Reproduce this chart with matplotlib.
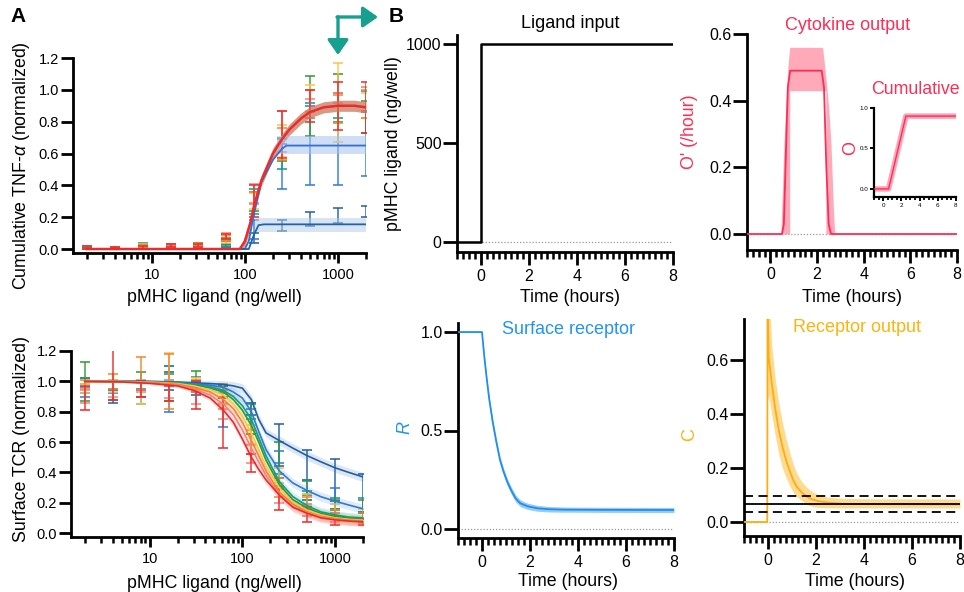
import numpy as np
import matplotlib
matplotlib.use('Agg')
import matplotlib.pyplot as plt
from matplotlib.ticker import FixedLocator, MultipleLocator, NullFormatter, FixedFormatter, FormatStrFormatter
from matplotlib.patches import FancyArrowPatch

plt.rcParams['font.family'] = ['Liberation Sans', 'DejaVu Sans']
plt.rcParams['mathtext.fontset'] = 'custom'
plt.rcParams['mathtext.rm'] = 'Liberation Sans'
plt.rcParams['mathtext.it'] = 'Liberation Sans:italic'

# ---------------- DATA ----------------
conc = [2, 4, 8, 16, 31.25, 62.5, 125, 250, 500, 1000, 2000]
series_names = ['dark blue', 'blue', 'teal', 'green', 'yellow', 'orange', 'salmon', 'red']
series_colors = ['#1f5fa6', '#2f78dc', '#139c8c', '#2f9a35', '#f8c64a', '#f5842a', '#f58080', '#ec2a2a']

# Cumulative TNF-alpha (normalized), mean and error per series
tnf_mean = [
    [0.005, 0.005, 0.01, 0.01, 0.02, 0.02, 0.07, 0.15, 0.19, 0.21, 0.235],
    [0.01, 0.005, 0.02, 0.02, 0.02, 0.03, 0.12, 0.52, 0.65, 0.65, 0.66],
    [0.01, 0.005, 0.025, 0.01, 0.025, 0.04, 0.30, 0.60, 0.87, 0.90, 0.93],
    [0.005, 0.005, 0.02, 0.02, 0.03, 0.05, 0.30, 0.62, 0.90, 0.95, 0.83],
    [0.01, 0.01, 0.02, 0.02, 0.02, 0.06, 0.30, 0.68, 0.95, 0.92, 0.90],
    [0.01, 0.005, 0.015, 0.02, 0.03, 0.07, 0.32, 0.66, 0.93, 0.88, 0.92],
    [0.01, 0.01, 0.01, 0.015, 0.02, 0.08, 0.35, 0.74, 0.88, 0.95, 0.93],
    [0.01, 0.005, 0.01, 0.02, 0.02, 0.08, 0.30, 0.72, 0.90, 0.90, 0.89],
]
tnf_err = [
    [0.005, 0.005, 0.01, 0.01, 0.01, 0.01, 0.03, 0.035, 0.045, 0.045, 0.035],
    [0.01, 0.005, 0.01, 0.01, 0.01, 0.02, 0.06, 0.14, 0.25, 0.25, 0.20],
    [0.01, 0.005, 0.015, 0.01, 0.01, 0.02, 0.08, 0.10, 0.05, 0.08, 0.06],
    [0.005, 0.005, 0.01, 0.01, 0.01, 0.02, 0.06, 0.07, 0.19, 0.15, 0.10],
    [0.01, 0.005, 0.01, 0.01, 0.01, 0.02, 0.05, 0.10, 0.08, 0.25, 0.08],
    [0.01, 0.005, 0.01, 0.01, 0.01, 0.02, 0.04, 0.10, 0.07, 0.09, 0.10],
    [0.01, 0.005, 0.01, 0.01, 0.01, 0.02, 0.06, 0.13, 0.06, 0.03, 0.07],
    [0.01, 0.005, 0.01, 0.01, 0.01, 0.015, 0.10, 0.15, 0.10, 0.15, 0.16],
]

# model fits for TNF
fit_red_x = [2, 88, 100, 115, 125, 150, 200, 250, 300, 400, 500, 700, 1000, 1500, 2000]
fit_red_y = [0, 0, 0.05, 0.17, 0.27, 0.43, 0.60, 0.69, 0.75, 0.82, 0.86, 0.89, 0.90, 0.90, 0.89]
fit_red_hw = [0.0, 0.0, 0.035, 0.035, 0.035, 0.035, 0.035, 0.035, 0.035, 0.035, 0.035, 0.035, 0.035, 0.035, 0.035]
fit_mid_x = [2, 100, 110, 125, 150, 200, 250, 280, 500, 1000, 2000]
fit_mid_y = [0, 0, 0.05, 0.22, 0.42, 0.56, 0.63, 0.65, 0.65, 0.65, 0.65]
band_mid_x = [220, 2000]
band_mid_lo = [0.595, 0.595]
band_mid_hi = [0.71, 0.71]
fit_low_x = [2, 110, 125, 140, 160, 2000]
fit_low_y = [0, 0, 0.09, 0.15, 0.155, 0.155]
band_low_x = [128, 2000]
band_low_lo = [0.11, 0.11]
band_low_hi = [0.195, 0.195]

# Surface TCR (normalized)
tcr_mean = [
    [0.97, 0.90, 0.95, 1.00, 0.95, 0.93, 0.82, 0.58, 0.45, 0.35, 0.26],
    [0.93, 0.96, 0.90, 0.95, 0.98, 0.84, 0.84, 0.50, 0.28, 0.23, 0.18],
    [1.00, 0.98, 0.97, 1.05, 1.00, 0.95, 0.70, 0.35, 0.25, 0.19, 0.12],
    [1.00, 0.94, 1.00, 0.96, 1.00, 0.93, 0.75, 0.48, 0.30, 0.19, 0.18],
    [0.95, 0.97, 0.92, 1.10, 0.98, 0.92, 0.65, 0.38, 0.22, 0.16, 0.13],
    [0.98, 1.00, 1.05, 1.00, 0.97, 0.88, 0.60, 0.30, 0.20, 0.12, 0.10],
    [0.90, 0.95, 0.97, 0.95, 0.90, 0.80, 0.52, 0.25, 0.15, 0.10, 0.08],
    [0.89, 1.05, 0.95, 0.92, 0.91, 0.73, 0.46, 0.22, 0.12, 0.08, 0.07],
]
tcr_err = [
    [0.05, 0.04, 0.05, 0.06, 0.04, 0.04, 0.04, 0.14, 0.10, 0.14, 0.13],
    [0.03, 0.04, 0.05, 0.15, 0.02, 0.14, 0.02, 0.04, 0.06, 0.07, 0.05],
    [0.02, 0.03, 0.03, 0.05, 0.03, 0.03, 0.05, 0.04, 0.03, 0.03, 0.02],
    [0.13, 0.06, 0.06, 0.09, 0.07, 0.04, 0.10, 0.12, 0.05, 0.04, 0.04],
    [0.03, 0.04, 0.07, 0.09, 0.04, 0.06, 0.06, 0.05, 0.04, 0.03, 0.03],
    [0.03, 0.05, 0.11, 0.18, 0.04, 0.06, 0.08, 0.06, 0.04, 0.03, 0.03],
    [0.04, 0.05, 0.04, 0.06, 0.05, 0.05, 0.06, 0.05, 0.04, 0.03, 0.02],
    [0.08, 0.17, 0.05, 0.05, 0.09, 0.17, 0.06, 0.07, 0.05, 0.03, 0.02],
]
tcr_fit_x = [2, 5, 10, 20, 30, 45, 62.5, 80, 100, 125, 150, 180, 250, 350, 500, 700, 1000, 1400, 2000]
tcr_fit_y = [
    [1.0, 1.0, 1.0, 0.995, 0.99, 0.985, 0.98, 0.97, 0.955, 0.88, 0.75, 0.66, 0.61, 0.56, 0.51, 0.47, 0.43, 0.40, 0.37],
    [1.0, 1.0, 0.998, 0.993, 0.985, 0.975, 0.96, 0.93, 0.89, 0.80, 0.67, 0.55, 0.41, 0.33, 0.28, 0.24, 0.21, 0.185, 0.16],
    [1.0, 1.0, 0.997, 0.99, 0.98, 0.965, 0.94, 0.90, 0.84, 0.75, 0.63, 0.51, 0.34, 0.24, 0.18, 0.14, 0.12, 0.105, 0.10],
    [1.0, 1.0, 0.996, 0.988, 0.975, 0.955, 0.93, 0.88, 0.81, 0.71, 0.60, 0.48, 0.32, 0.22, 0.165, 0.13, 0.11, 0.10, 0.09],
    [1.0, 0.999, 0.995, 0.985, 0.97, 0.945, 0.91, 0.85, 0.77, 0.66, 0.55, 0.44, 0.30, 0.20, 0.15, 0.12, 0.10, 0.09, 0.085],
    [1.0, 0.998, 0.993, 0.98, 0.96, 0.93, 0.88, 0.82, 0.73, 0.61, 0.51, 0.41, 0.27, 0.19, 0.14, 0.11, 0.095, 0.085, 0.08],
    [1.0, 0.997, 0.99, 0.975, 0.95, 0.91, 0.85, 0.78, 0.68, 0.56, 0.47, 0.38, 0.25, 0.175, 0.135, 0.105, 0.09, 0.082, 0.077],
    [1.0, 0.996, 0.987, 0.97, 0.94, 0.89, 0.81, 0.73, 0.62, 0.50, 0.42, 0.35, 0.25, 0.17, 0.13, 0.10, 0.087, 0.079, 0.074],
]
tcr_fit_hw = [0.0, 0.005, 0.008, 0.012, 0.015, 0.02, 0.025, 0.028, 0.03, 0.03, 0.03, 0.03, 0.03, 0.03, 0.03, 0.03, 0.03, 0.03, 0.03]

# Panel B: time courses
lig_t = [-1, 0, 0, 8]
lig_v = [0, 0, 1000, 1000]

cyt_t = [-1, 0.5, 0.58, 0.65, 0.75, 0.85, 2.2, 2.3, 2.4, 2.5, 2.6, 8]
cyt_v = [0, 0, 0.03, 0.2, 0.44, 0.49, 0.49, 0.44, 0.2, 0.03, 0, 0]
cyt_band_t = [-1, 0.45, 0.6, 0.75, 0.83, 0.831, 2.24, 2.38, 2.381, 2.5, 2.6, 2.7, 2.76, 8]
cyt_band_hi = [0, 0, 0.3, 0.5, 0.56, 0.56, 0.56, 0.47, 0.47, 0.38, 0.27, 0.08, 0, 0]
cyt_band_lo = [0, 0, 0, 0, 0, 0.43, 0.43, 0.43, 0, 0, 0, 0, 0, 0]

cum_t = [-1, 0.6, 2.5, 8]
cum_v = [0, 0, 0.9, 0.9]

r_t = [-1, 0, 0.1, 0.2, 0.3, 0.45, 0.6, 0.75, 0.9, 1.05, 1.2, 1.4, 1.6, 1.9, 2.3, 2.8, 3.5, 5, 8]
r_v = [1, 1, 0.87, 0.76, 0.66, 0.54, 0.44, 0.35, 0.29, 0.24, 0.2, 0.155, 0.13, 0.115, 0.105, 0.1, 0.098, 0.097, 0.096]
r_hw = [0, 0, 0.01, 0.012, 0.014, 0.015, 0.016, 0.017, 0.018, 0.018, 0.018, 0.018, 0.017, 0.016, 0.015, 0.014, 0.013, 0.013, 0.013]

c_t = [-1, -0.03, -0.02, 0.03, 0.15, 0.3, 0.45, 0.6, 0.75, 0.9, 1.05, 1.2, 1.4, 1.6, 1.8, 2.1, 2.5, 3.0, 4, 8]
c_v = [0, 0, 0.8, 0.61, 0.52, 0.42, 0.34, 0.28, 0.23, 0.19, 0.155, 0.13, 0.11, 0.095, 0.085, 0.077, 0.072, 0.068, 0.066, 0.065]
c_band_t = [-0.02, 0.03, 0.15, 0.3, 0.45, 0.6, 0.75, 0.9, 1.05, 1.2, 1.4, 1.6, 1.8, 2.1, 2.5, 3.0, 4, 8]
c_band_hi = [0.95, 0.9, 0.66, 0.53, 0.44, 0.37, 0.31, 0.26, 0.215, 0.18, 0.15, 0.13, 0.115, 0.1, 0.092, 0.088, 0.086, 0.085]
c_band_lo = [0.45, 0.47, 0.40, 0.32, 0.25, 0.2, 0.165, 0.135, 0.11, 0.095, 0.08, 0.065, 0.058, 0.054, 0.053, 0.052, 0.052, 0.052]
c_exp_mean = 0.067
c_exp_bounds = [0.037, 0.098]

# ---------------- FIGURE ----------------
W, H = 964, 592
fig = plt.figure(figsize=(W / 100, H / 100), dpi=100)


def px_ax(l, t, r, b):
    return fig.add_axes([l / W, 1 - b / H, (r - l) / W, (b - t) / H])


def ftext(x, y, s, **kw):
    ha = kw.pop('ha', 'center')
    va = kw.pop('va', 'center')
    fig.text(x / W, 1 - y / H, s, ha=ha, va=va, **kw)


def base_style(ax, ylen, xlen, xmin, lw=2.0, lsize=10.5, ypad=1.5):
    for s in ['top', 'right']:
        ax.spines[s].set_visible(False)
    for s in ['left', 'bottom']:
        ax.spines[s].set_linewidth(lw)
    ax.tick_params(axis='y', which='major', length=ylen, width=lw, labelsize=lsize, pad=ypad)
    ax.tick_params(axis='x', which='major', length=xlen, width=lw, labelsize=lsize)
    ax.tick_params(axis='x', which='minor', length=xmin, width=lw * 0.9)
    ax.tick_params(axis='y', which='minor', left=False)


def log_axis(ax):
    ax.set_xscale('log')
    ax.set_xlim(1.42, 2000)
    ax.xaxis.set_major_locator(FixedLocator([10, 100, 1000]))
    ax.xaxis.set_major_formatter(FixedFormatter(['10', '100', '1000']))
    minors = [m * d for d in (1, 10, 100) for m in range(2, 10)] + [2000]
    ax.xaxis.set_minor_locator(FixedLocator(minors))
    ax.xaxis.set_minor_formatter(NullFormatter())
    ax.set_yticks([0, 0.2, 0.4, 0.6, 0.8, 1.0, 1.2])
    ax.yaxis.set_major_formatter(FormatStrFormatter('%.1f'))


# ---- Panel A top: TNF ----
axA1 = px_ax(73, 58, 366, 253)
base_style(axA1, 8.5, 7, 4.5)
log_axis(axA1)
axA1.set_ylim(-0.025, 1.2)
for m, e, c in zip(tnf_mean, tnf_err, series_colors):
    axA1.errorbar(conc, m, yerr=e, fmt='none', ecolor=c, elinewidth=1.2,
                  capsize=3.6, capthick=1.3, alpha=0.85, zorder=2)
lo = np.array(fit_red_y) - np.array(fit_red_hw)
hi = np.array(fit_red_y) + np.array(fit_red_hw)
axA1.fill_between(fit_red_x, lo, hi, color='#c8785c', alpha=0.75, lw=0, zorder=3)
axA1.fill_between(band_mid_x, band_mid_lo, band_mid_hi, color='#a9c3ee', alpha=0.55, lw=0, zorder=3)
axA1.fill_between(band_low_x, band_low_lo, band_low_hi, color='#b3cbe6', alpha=0.5, lw=0, zorder=3)
axA1.plot(fit_mid_x, fit_mid_y, color='#2f6fd6', lw=1.3, zorder=4)
axA1.plot(fit_low_x, fit_low_y, color='#1f63a8', lw=1.3, zorder=4)
axA1.plot(fit_red_x, fit_red_y, color='#ee2a2a', lw=1.8, zorder=5)

# ---- Panel A bottom: TCR ----
axA2 = px_ax(71, 351, 363, 537)
base_style(axA2, 8.5, 7, 4.5)
log_axis(axA2)
axA2.set_ylim(-0.026, 1.2)
for m, e, c in zip(tcr_mean, tcr_err, series_colors):
    axA2.errorbar(conc, m, yerr=e, fmt='none', ecolor=c, elinewidth=1.2,
                  capsize=3.6, capthick=1.3, alpha=0.85, zorder=2)
for yv, c in zip(tcr_fit_y, series_colors):
    yv = np.array(yv)
    hw = np.array(tcr_fit_hw)
    axA2.fill_between(tcr_fit_x, yv - hw, yv + hw, color=c, alpha=0.15, lw=0, zorder=3)
for yv, c in zip(tcr_fit_y, series_colors):
    axA2.plot(tcr_fit_x, yv, color=c, lw=1.2, zorder=4)

# Panel A labels
ftext(22, 166, 'Cumulative TNF-$\\alpha$ (normalized)', rotation=90, fontsize=12.8)
ftext(214, 298, 'pMHC ligand (ng/well)', fontsize=12.8)
ftext(22, 439, 'Surface TCR (normalized)', rotation=90, fontsize=12.8)
ftext(214, 583, 'pMHC ligand (ng/well)', fontsize=12.8)
ftext(18, 16, 'A', fontsize=15, fontweight='bold')
ftext(396, 17, 'B', fontsize=15, fontweight='bold')


def time_axis(ax):
    ax.set_xlim(-1, 8)
    ax.xaxis.set_major_locator(FixedLocator([0, 2, 4, 6, 8]))
    ax.xaxis.set_minor_locator(MultipleLocator(0.25))
    ax.xaxis.set_minor_formatter(NullFormatter())


# ---- Ligand input ----
axL = px_ax(457, 35, 673, 252)
base_style(axL, 10, 9, 5, lsize=11.5, ypad=1)
time_axis(axL)
axL.set_ylim(-50, 1045)
axL.set_yticks([0, 500, 1000])
axL.plot([-1, 8], [0, 0], color='#999999', lw=0.9, ls=(0, (1, 1.5)), zorder=1)
axL.plot(lig_t, lig_v, color='black', lw=1.8, zorder=3)
ftext(570, 23, 'Ligand input', fontsize=13)
ftext(393, 144, 'pMHC ligand (ng/well)', rotation=90, fontsize=12.8)
ftext(570, 298, 'Time (hours)', fontsize=12.8)

# ---- Cytokine output ----
cyt_col = '#ff2d55'
axC = px_ax(747, 34, 957, 250)
base_style(axC, 10, 9, 5, lsize=11.5, ypad=1)
time_axis(axC)
axC.set_ylim(-0.048, 0.6)
axC.set_yticks([0, 0.2, 0.4, 0.6])
axC.yaxis.set_major_formatter(FormatStrFormatter('%.1f'))
axC.plot([-1, 8], [0, 0], color='#999999', lw=0.9, ls=(0, (1, 1.5)), zorder=1)
axC.fill_between(cyt_band_t, cyt_band_lo, cyt_band_hi, color='#ffa0b2', alpha=0.9, lw=0, zorder=2)
axC.plot(cyt_t, cyt_v, color=cyt_col, lw=1.3, zorder=3)
ftext(848, 25, 'Cytokine output', fontsize=13, color=cyt_col)
ftext(690, 132, "O' (/hour)", rotation=90, fontsize=12.8, color=cyt_col)
ftext(852, 298, 'Time (hours)', fontsize=12.8)

# inset
axI = px_ax(874, 108, 956, 197)
for s in ['top', 'right']:
    axI.spines[s].set_visible(False)
for s in ['left', 'bottom']:
    axI.spines[s].set_linewidth(1.6)
axI.set_xlim(-1, 8)
axI.set_ylim(-0.1, 1.0)
axI.set_yticks([0, 0.5, 1.0])
axI.yaxis.set_major_formatter(FormatStrFormatter('%.1f'))
axI.xaxis.set_major_locator(FixedLocator([0, 2, 4, 6, 8]))
axI.xaxis.set_minor_locator(MultipleLocator(0.5))
axI.tick_params(axis='both', which='major', length=3, width=1.4, labelsize=4.5, pad=1)
axI.tick_params(axis='x', which='minor', length=2.5, width=1.3)
axI.plot(cum_t, cum_v, color='#ff8fa6', lw=4, alpha=0.8, solid_capstyle='butt', zorder=2)
axI.plot(cum_t, cum_v, color=cyt_col, lw=1.0, zorder=3)
ftext(915, 89, 'Cumulative', fontsize=12.8, color=cyt_col)
ftext(851, 148, 'O', rotation=90, fontsize=13, color=cyt_col)

# ---- Surface receptor ----
r_col = '#1f8fe8'
axR = px_ax(458, 323, 674, 538)
base_style(axR, 10, 9, 5, lsize=11.5, ypad=1)
time_axis(axR)
axR.set_ylim(-0.046, 1.046)
axR.set_yticks([0, 0.5, 1.0])
axR.yaxis.set_major_formatter(FormatStrFormatter('%.1f'))
axR.plot([-1, 8], [0, 0], color='#999999', lw=0.9, ls=(0, (1, 1.5)), zorder=1)
rv = np.array(r_v)
rh = np.array(r_hw)
axR.fill_between(r_t, rv - rh, rv + rh, color='#7fc0f4', alpha=0.8, lw=0, zorder=2)
axR.plot(r_t, r_v, color=r_col, lw=1.3, zorder=3)
ftext(568, 329, 'Surface receptor', fontsize=13, color='#2096f0')
ftext(406, 428, '$R$', rotation=90, fontsize=13, color='#2096f0')
ftext(568, 582, 'Time (hours)', fontsize=12.8)

# ---- Receptor output ----
c_col = '#ffac10'
axO = px_ax(744, 319, 960, 536)
base_style(axO, 10, 9, 5, lsize=11.5, ypad=1)
time_axis(axO)
axO.set_ylim(-0.052, 0.752)
axO.set_yticks([0, 0.2, 0.4, 0.6])
axO.yaxis.set_major_formatter(FormatStrFormatter('%.1f'))
axO.plot([-1, 8], [0, 0], color='#999999', lw=0.9, ls=(0, (1, 1.5)), zorder=1)
axO.fill_between(c_band_t, c_band_lo, c_band_hi, color='#ffd06e', alpha=0.75, lw=0, zorder=2)
axO.axhline(c_exp_mean, color='black', lw=1.3, zorder=4)
for b in c_exp_bounds:
    axO.axhline(b, color='black', lw=1.3, ls=(0, (5, 3)), zorder=4)
axO.plot(c_t, c_v, color=c_col, lw=1.3, zorder=3)
ftext(857, 328, 'Receptor output', fontsize=13, color='#ffb30f')
ftext(690, 435, 'C', rotation=90, fontsize=13, color='#ffb30f')
ftext(855, 582, 'Time (hours)', fontsize=12.8)

# ---- teal arrow ----
teal = '#16a090'
for (x0, y0, x1, y1) in [(338, 17, 338, 55), (337, 17, 378, 17)]:
    arr = FancyArrowPatch((x0 / W, 1 - y0 / H), (x1 / W, 1 - y1 / H), transform=fig.transFigure,
                          arrowstyle='-|>,head_length=5,head_width=3.5', color=teal, lw=2.4,
                          mutation_scale=1.8, shrinkA=0, shrinkB=0)
    fig.patches.append(arr)

fig.savefig('out.png', dpi=100)
